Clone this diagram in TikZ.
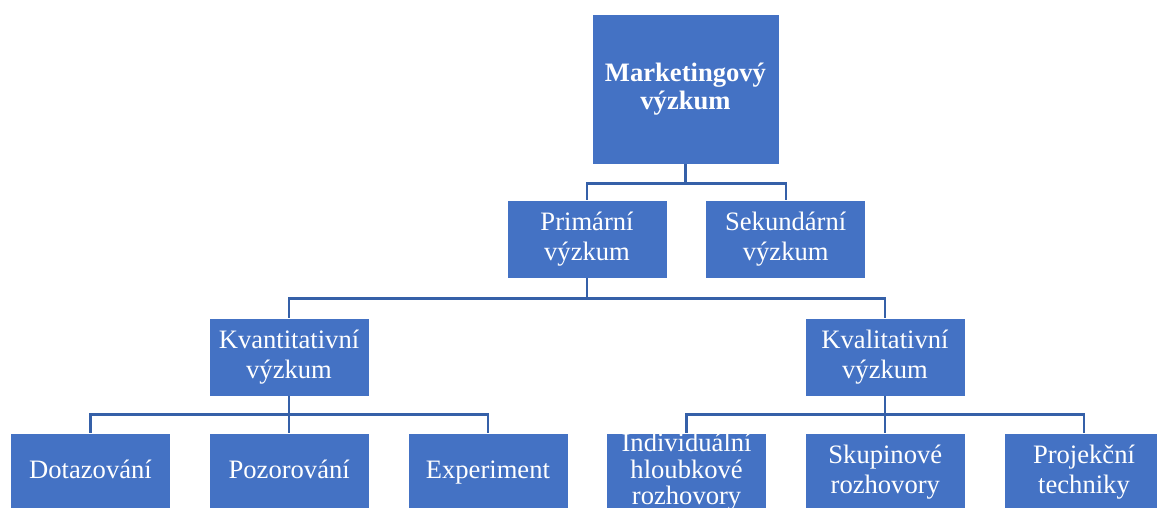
\documentclass[tikz,border=0pt]{standalone}
\usepackage{fontspec}
\setmainfont{Liberation Serif}
\usetikzlibrary{positioning}
\definecolor{boxblue}{HTML}{4472C4}
\definecolor{linkblue}{HTML}{3560A8}

\begin{document}
\begin{tikzpicture}[x=1pt, y=-1pt, node distance=37.9pt,
   font=\fontsize{26.6}{30.5}\selectfont,
   box/.style={rectangle, draw=white, line width=0.8pt, fill=boxblue,
     text=white, minimum height=78pt, text width=160pt, align=center,
     inner sep=0pt},
   topbox/.style={box, minimum height=150pt, text width=187pt,
     font=\fontsize{26.6}{27.5}\selectfont\bfseries},
   link/.style={draw=linkblue, line width=2.4pt}]
 \useasboundingbox (0,0) rectangle (1157,508);
 \node[topbox] (mv) at (685.5,89) {Marketingový\\výzkum};
 \node[box] (prim) at (587,239) {Primární\\výzkum};
 \node[box, right=of prim] (sek) {Sekundární\\výzkum};
 \node[box] (kvant) at (289,357) {Kvantitativní\\výzkum};
 \node[box] (kval) at (885,357) {Kvalitativní\\výzkum};
 \node[box] (dot) at (90.5,472) {\strut Dotazování};
 \node[box, right=of dot] (poz) {\strut Pozorování};
 \node[box, right=of poz] (exp) {\strut Experiment};
 \node[box, right=of exp, font=\fontsize{26.6}{26.5}\selectfont] (ind) {Individuální\\hloubkové\\rozhovory};
 \node[box, right=of ind] (skup) {Skupinové\\rozhovory};
 \node[box, right=of skup] (proj) {Projekční\\techniky};
 % connectors
 \draw[link] (mv.south) -- ++(0,19) -| (prim.north);
 \draw[link] (mv.south) -- ++(0,19) -| (sek.north);
 \draw[link] (prim.south) -- ++(0,20) -| (kvant.north);
 \draw[link] (prim.south) -- ++(0,20) -| (kval.north);
 \draw[link] (kvant.south) -- ++(0,18) -| (dot.north);
 \draw[link] (kvant.south) -- (kvant.south |- poz.north);
 \draw[link] (kvant.south) -- ++(0,18) -| (exp.north);
 \draw[link] (kval.south) -- ++(0,18) -| (ind.north);
 \draw[link] (kval.south) -- (kval.south |- skup.north);
 \draw[link] (kval.south) -- ++(0,18) -| (proj.north);
\end{tikzpicture}
\end{document}
